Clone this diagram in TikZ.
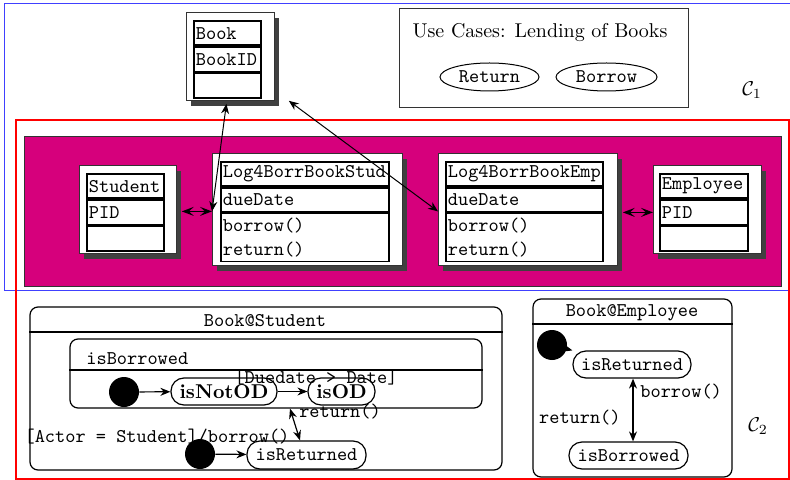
\documentclass[tikz,border=0pt]{standalone}
\usetikzlibrary{arrows.meta,shapes.geometric,shadows,calc}
\definecolor{pkgfill}{RGB}{214,0,124}
\definecolor{shadecol}{RGB}{64,64,64}
\newcommand{\umlfont}{\fontsize{9.7}{12}\selectfont\ttfamily}
\begin{document}
\begin{tikzpicture}[x=0.5pt,y=-0.5pt,
  classbox/.style 2 args={draw=black!80, line width=0.4pt, fill=white, inner sep=0pt,
    anchor=north west, minimum width=#1, minimum height=#2,
    drop shadow={shadow xshift=2.5pt, shadow yshift=-3pt, opacity=1, fill=shadecol}},
  crow/.style={draw, line width=0.9pt, fill=white, anchor=north west, inner xsep=1pt, inner ysep=0pt,
    text width=#1, align=left, font=\umlfont, minimum height=12.25pt},
  dlink/.style={line width=0.8pt, {Stealth[length=6pt,width=4.5pt,inset=2.5pt]}-{Stealth[length=6pt,width=4.5pt,inset=2.5pt]}},
  blink/.style={line width=0.5pt, {Stealth[length=5pt,width=4pt]}-{Stealth[length=5pt,width=4pt]}},
  ucase/.style={draw, ellipse, line width=0.5pt, inner sep=0pt, font=\umlfont},
  sbig/.style={draw, line width=0.6pt, rounded corners=4pt, inner sep=0pt},
  pill/.style={draw, line width=0.6pt, rounded corners=6.5pt, inner sep=0pt, minimum height=13.5pt},
  initdot/.style={circle, fill=black, draw=none, minimum size=15pt, inner sep=0pt},
  trans/.style={line width=0.6pt, -{Stealth[length=5pt,width=4pt]}},
  trans2/.style={line width=0.6pt, {Stealth[length=5pt,width=4pt]}-{Stealth[length=5pt,width=4pt]}},
  lbl/.style={font=\umlfont, inner sep=0.5pt}
]
\useasboundingbox (0,0) rectangle (790,480);
\clip (0,0) rectangle (790,480);

% component frames
\draw[blue!75, line width=0.5pt] (4,4) rectangle (800,290);
\draw[red, line width=1pt] (16,120) rectangle (789,479);
\node[draw=black!80, line width=0.5pt, fill=pkgfill, anchor=north west, inner sep=0pt,
  minimum width=378.5pt, minimum height=75pt] (pkg) at (24,136) {};
\node (c1) at (752,90) {$\mathcal{C}_1$};
\node (c2) at (758,426) {$\mathcal{C}_2$};

% class Book
\node[classbox={44pt}{44pt}] (bookbox) at (186,12) {};
\node[crow=31.5pt] (bookname) at (193,20) {Book};
\node[crow=31.5pt] (bookattr) at (bookname.south west) {BookID};
\node[crow=31.5pt] (bookops) at (bookattr.south west) {};

% class Student
\node[classbox={48.5pt}{44pt}] (studbox) at (79,165) {};
\node[crow=36.5pt] (studname) at (86,173) {Student};
\node[crow=36.5pt] (studattr) at (studname.south west) {PID};
\node[crow=36.5pt] (studops) at (studattr.south west) {};

% class Log4BorrBookStud
\node[classbox={95pt}{56pt}] (lsbox) at (212,153) {};
\node[crow=82pt, minimum height=12pt] (lsname) at (220,161) {Log4BorrBookStud};
\node[crow=82pt, minimum height=12pt] (lsattr) at (lsname.south west) {dueDate};
\node[crow=82pt, minimum height=24pt] (lsops) at (lsattr.south west) {borrow()\\return()};
\draw[line width=1.3pt] (lsname.south west) -- (lsname.south east);

% class Log4BorrBookEmp
\node[classbox={89.5pt}{56pt}] (lebox) at (438,153) {};
\node[crow=76.5pt, minimum height=12pt] (lename) at (445,161) {Log4BorrBookEmp};
\node[crow=76.5pt, minimum height=12pt] (leattr) at (lename.south west) {dueDate};
\node[crow=76.5pt, minimum height=24pt] (leops) at (leattr.south west) {borrow()\\return()};
\draw[line width=1.3pt] (lename.south west) -- (lename.south east);

% class Employee
\node[classbox={54pt}{44pt}] (empbox) at (653,165) {};
\node[crow=42pt] (empname) at (659,173) {Employee};
\node[crow=42pt] (empattr) at (empname.south west) {PID};
\node[crow=42pt] (empops) at (empattr.south west) {};

% associations
\draw[dlink] ([xshift=2.5pt,yshift=-1pt]studbox.east) -- ([yshift=-1pt]lsbox.west);
\draw[dlink] ([xshift=2.5pt,yshift=-1.5pt]lebox.east) -- ([yshift=-1.5pt]empbox.west);
\draw[blink] ([xshift=-2pt,yshift=-1.5pt]bookbox.south) -- ([yshift=-1pt]lsbox.west);
\draw[blink] ([xshift=7pt]bookbox.south east) -- ([yshift=-1pt]lebox.west);

% use cases
\node[draw=black!80, line width=0.5pt, inner sep=0pt, minimum width=144.5pt, minimum height=49.5pt] (uc) at (543.5,58.5) {};
\node (uctitle) at (540,33) {Use Cases: Lending of Books};
\node[ucase, minimum width=49.5pt, minimum height=14pt] (ucret) at (489.5,77) {Return};
\node[ucase, minimum width=50.5pt, minimum height=14pt] (ucbor) at (606.5,77) {Borrow};

% state machine Book@Student
\node[sbig, minimum width=236pt, minimum height=81.5pt] (bstud) at (266,388.5) {};
\node[lbl] (bstudtitle) at (265,321) {Book@Student};
\draw[line width=1pt] ($(bstud.north west)+(0,26)$) -- ($(bstud.north east)+(0,26)$);
\node[sbig, minimum width=206pt, minimum height=34.5pt] (isb) at (276,373.5) {};
\node[lbl, anchor=west] (isbtitle) at (85,359) {isBorrowed};
\draw[line width=1pt] ($(isb.north west)+(0,32)$) -- ($(isb.north east)+(0,32)$);
\node[initdot] (init1) at (124,392) {};
\node[pill, minimum width=53pt, font=\bfseries] (notod) at (224,391.5) {isNotOD};
\node[pill, minimum width=33.5pt, font=\bfseries] (od) at (341.5,391.5) {isOD};
\node[initdot] (init2) at (200,454) {};
\node[pill, minimum width=59.5pt, minimum height=14pt, font=\umlfont] (sret) at (306.5,455) {isReturned};
\draw[trans] (init1) -- (notod);
\draw[trans] (notod) -- (od);
\draw[trans] (init2) -- (sret);
\draw[trans2] ([xshift=7pt]isb.south) -- ([xshift=-3.25pt]sret.north);
\node[lbl] (lbldue) at (316,378) {[Duedate > Date]};
\node[lbl] (lblret1) at (340,412) {return()};
\node[lbl] (lblactor) at (157,437) {[Actor = Student]/borrow()};

% state machine Book@Employee
\node[sbig, minimum width=99.5pt, minimum height=89pt] (bemp) at (632.5,388) {};
\node[lbl] (bemptitle) at (632,313) {Book@Employee};
\draw[line width=1pt] ($(bemp.north west)+(0,26)$) -- ($(bemp.north east)+(0,26)$);
\node[initdot] (init3) at (552,345) {};
\node[pill, minimum width=59pt, font=\umlfont] (eret) at (632,364.5) {isReturned};
\node[pill, minimum width=59.5pt, font=\umlfont] (ebor) at (628.5,455.5) {isBorrowed};
\draw[trans] (init3) -- (eret.north west);
\draw[trans2] ([xshift=0.5pt]eret.south) -- ([xshift=2.25pt]ebor.north);
\node[lbl, anchor=west] (lblborrow) at (639,392) {borrow()};
\node[lbl, anchor=east] (lblret2) at (622,418) {return()};
\end{tikzpicture}
\end{document}
